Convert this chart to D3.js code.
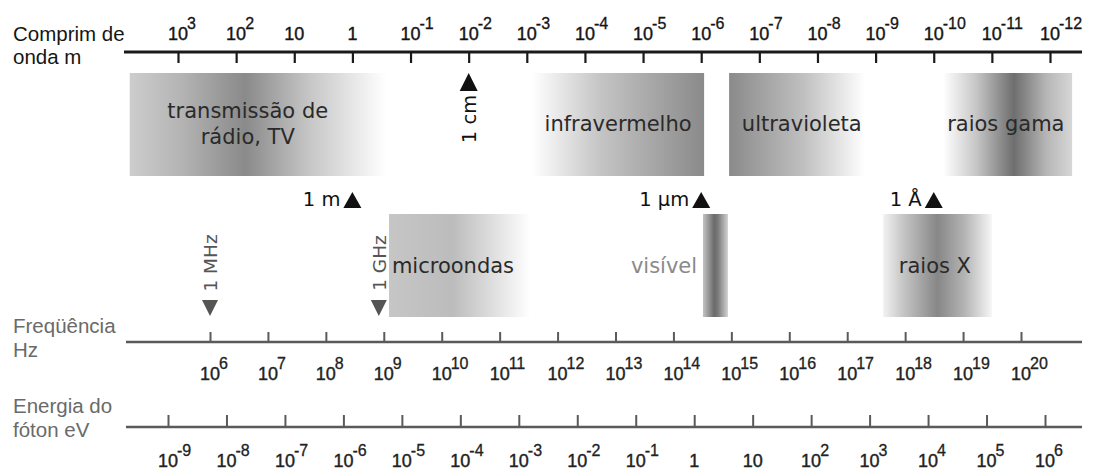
<!DOCTYPE html>
<html>
<head>
<meta charset="utf-8">
<script src="https://cdn.jsdelivr.net/npm/d3@7"></script>
<style>
  html, body { margin: 0; padding: 0; background: #fff; }
  svg { display: block; }
</style>
</head>
<body>
<svg id="chart" width="1094" height="471"></svg>
<script>
// ---------- data ----------
// tick exponents (powers of ten) on the three scales
const wavelengthTicks = [3, 2, 1, 0, -1, -2, -3, -4, -5, -6, -7, -8, -9, -10, -11, -12];
const frequencyTicks = [6, 7, 8, 9, 10, 11, 12, 13, 14, 15, 16, 17, 18, 19, 20];
const energyTicks = [-9, -8, -7, -6, -5, -4, -3, -2, -1, 0, 1, 2, 3, 4, 5, 6];

// spectrum bands, extent given as wavelength exponents (10^x m)
const bandNames = ["transmissão de|rádio, TV", "infravermelho", "ultravioleta", "raios gama", "microondas", "visível", "raios X"];
const bandFrom  = [3.83, -3.09, -6.48, -10.16, -0.63, -6.03, -9.13];
const bandTo    = [-0.58, -6.05, -8.82, -12.38, -3.06, -6.46, -11.0];
const bandRow   = [0, 0, 0, 0, 1, 1, 1];
const bandLabelAt = [1.80, -4.57, -7.73, -11.24, -1.73, -5.93, -10.02];

// reference marks
const wlMarkLabels = ["1 cm", "1 m", "1 μm", "1 Å"];
const wlMarkValues = [1e-2, 1, 1e-6, 1e-10];
const freqMarkLabels = ["1 MHz", "1 GHz"];
const freqMarkValues = [1e6, 1e9];

// ---------- scales ----------
const wl = d3.scaleLog().domain([1e3, 1e-12]).range([178, 1050]);
const fq = d3.scaleLog().domain([1e6, 1e20]).range([210, 1021]);
const en = d3.scaleLog().domain([1e-9, 1e6]).range([168, 1045]);

const svg = d3.select("#chart");
const defs = svg.append("defs");

const SANS = "'Liberation Sans', Arial, sans-serif";
const DV = "'DejaVu Sans', Verdana, sans-serif";

// gradient stops per band (style only)
const bandShade = {
  "transmissão de|rádio, TV": [[0, "#cdcdcd"], [0.2, "#b4b4b4"], [0.45, "#8a8a8a"], [0.7, "#c6c6c6"], [1, "#ffffff"]],
  "infravermelho": [[0, "#ffffff"], [0.4, "#c4c4c4"], [1, "#8a8a8a"]],
  "ultravioleta": [[0, "#8a8a8a"], [0.55, "#c0c0c0"], [1, "#ffffff"]],
  "raios gama": [[0, "#ffffff"], [0.25, "#c8c8c8"], [0.55, "#6e6e6e"], [0.8, "#b6b6b6"], [1, "#d6d6d6"]],
  "microondas": [[0, "#c6c6c6"], [0.45, "#bcbcbc"], [0.7, "#dadada"], [1, "#ffffff"]],
  "visível": [[0, "#c4c4c4"], [0.45, "#6a6a6a"], [0.6, "#7a7a7a"], [1, "#d2d2d2"]],
  "raios X": [[0, "#f2f2f2"], [0.18, "#c6c6c6"], [0.5, "#878787"], [0.75, "#b4b4b4"], [1, "#f6f6f6"]]
};
const rowY = [[73, 176], [214, 317]];

// ---------- bands ----------
const bands = bandNames.map((name, i) => ({ name, from: bandFrom[i], to: bandTo[i], row: bandRow[i], at: bandLabelAt[i] }));

bands.forEach((b, i) => {
  const g = defs.append("linearGradient").attr("id", "grad" + i)
    .attr("x1", 0).attr("x2", 1).attr("y1", 0).attr("y2", 0);
  bandShade[b.name].forEach(s => g.append("stop").attr("offset", s[0]).attr("stop-color", s[1]));
});

svg.append("g").selectAll("rect").data(bands).join("rect")
  .attr("x", d => wl(10 ** d.from))
  .attr("width", d => wl(10 ** d.to) - wl(10 ** d.from))
  .attr("y", d => rowY[d.row][0])
  .attr("height", d => rowY[d.row][1] - rowY[d.row][0])
  .attr("fill", (d, i) => `url(#grad${i})`);

const bandLbl = svg.append("g").attr("font-family", DV).attr("font-size", 21);
bands.forEach(b => {
  const lines = b.name.split("|");
  const isVis = b.name === "visível";
  const t = bandLbl.append("text")
    .attr("x", wl(10 ** b.at))
    .attr("text-anchor", isVis ? "end" : "middle")
    .attr("fill", isVis ? "#8a8a8a" : "#2a2a2a");
  const yBase = b.row === 0 ? (lines.length > 1 ? 118 : 131) : 273;
  lines.forEach((ln, k) => t.append("tspan").attr("x", wl(10 ** b.at)).attr("y", yBase + k * 26).text(ln));
});

// ---------- axes ----------
function expLabels(g, scale, vals, valueOf, baseY, color) {
  const lg = g.append("g").attr("font-family", SANS).attr("fill", color);
  vals.forEach(e => {
    const x = scale(valueOf(e));
    const base = e === 0 ? "1" : "10";
    lg.append("text").attr("x", x).attr("y", baseY).attr("text-anchor", "middle")
      .attr("font-size", 18).attr("stroke", color).attr("stroke-width", 0.4).text(base);
    if (e !== 0 && e !== 1) {
      lg.append("text").attr("x", x + 9).attr("y", baseY - 11)
        .attr("font-size", 16).attr("stroke", color).attr("stroke-width", 0.3)
        .text(e < 0 ? "-" + Math.abs(e) : String(e));
    }
  });
}

function styleAxis(g, color, width) {
  g.select(".domain").remove();
  g.selectAll(".tick line").attr("stroke", color).attr("stroke-width", width);
}

// wavelength axis (top)
const wlG = svg.append("g");
wlG.append("line").attr("x1", 124).attr("x2", 1082).attr("y1", 52).attr("y2", 52)
  .attr("stroke", "#1a1a1a").attr("stroke-width", 3);
wlG.append("g").attr("transform", "translate(0,52)")
  .call(d3.axisBottom(wl).tickValues(wavelengthTicks.map(e => 10 ** e)).tickSize(11).tickFormat(""))
  .call(g => styleAxis(g, "#1a1a1a", 2.2));
expLabels(wlG, wl, wavelengthTicks, e => 10 ** e, 40, "#151515");

// frequency axis
const fqG = svg.append("g");
fqG.append("line").attr("x1", 126).attr("x2", 1082).attr("y1", 342).attr("y2", 342)
  .attr("stroke", "#5a5a5a").attr("stroke-width", 2.6);
fqG.append("g").attr("transform", "translate(0,342)")
  .call(d3.axisTop(fq).tickValues(frequencyTicks.map(e => 10 ** e)).tickSize(10).tickFormat(""))
  .call(g => styleAxis(g, "#5a5a5a", 2));
expLabels(fqG, fq, frequencyTicks, e => 10 ** e, 380, "#222");

// energy axis
const enG = svg.append("g");
enG.append("line").attr("x1", 126).attr("x2", 1082).attr("y1", 427).attr("y2", 427)
  .attr("stroke", "#5a5a5a").attr("stroke-width", 2.6);
enG.append("g").attr("transform", "translate(0,427)")
  .call(d3.axisTop(en).tickValues(energyTicks.map(e => 10 ** e)).tickSize(12).tickFormat(""))
  .call(g => styleAxis(g, "#5a5a5a", 2));
expLabels(enG, en, energyTicks, e => 10 ** e, 467, "#222");

// ---------- row titles ----------
const titles = svg.append("g").attr("font-family", SANS).attr("font-size", 20.5);
[["Comprim de", 41, "#151515"], ["onda m", 64, "#151515"],
 ["Freqüência", 333, "#6a6a6a"], ["Hz", 357, "#6a6a6a"],
 ["Energia do", 413, "#6a6a6a"], ["fóton eV", 437, "#6a6a6a"]]
  .forEach(([t, y, c]) => titles.append("text").attr("x", 13).attr("y", y).attr("fill", c).text(t));

// ---------- marks ----------
const tri = (x, yTip, h, up) => up
  ? `M${x - 9},${yTip + h}L${x + 9},${yTip + h}L${x},${yTip}Z`
  : `M${x - 8},${yTip - h}L${x + 8},${yTip - h}L${x},${yTip}Z`;

const marks = svg.append("g").attr("font-family", DV).attr("font-size", 19.5);
wlMarkLabels.forEach((lab, i) => {
  const x = wl(wlMarkValues[i]);
  if (i === 0) {
    marks.append("path").attr("d", tri(x, 73, 18, true)).attr("fill", "#111");
    marks.append("text").attr("transform", `translate(${x + 7},119) rotate(-90)`)
      .attr("text-anchor", "middle").attr("fill", "#111").text(lab);
  } else {
    marks.append("path").attr("d", tri(x, 192, 16, true)).attr("fill", "#111");
    marks.append("text").attr("x", x - 12).attr("y", 206).attr("text-anchor", "end")
      .attr("fill", "#111").text(lab);
  }
});
freqMarkLabels.forEach((lab, i) => {
  const x = fq(freqMarkValues[i]) - (i === 1 ? 5 : 0);
  marks.append("path").attr("d", tri(x, 316, 16, false)).attr("fill", "#555");
  marks.append("text").attr("transform", `translate(${x + 7},263) rotate(-90)`)
    .attr("text-anchor", "middle").attr("fill", "#555").attr("font-size", 18.5).text(lab);
});
</script>
</body>
</html>
